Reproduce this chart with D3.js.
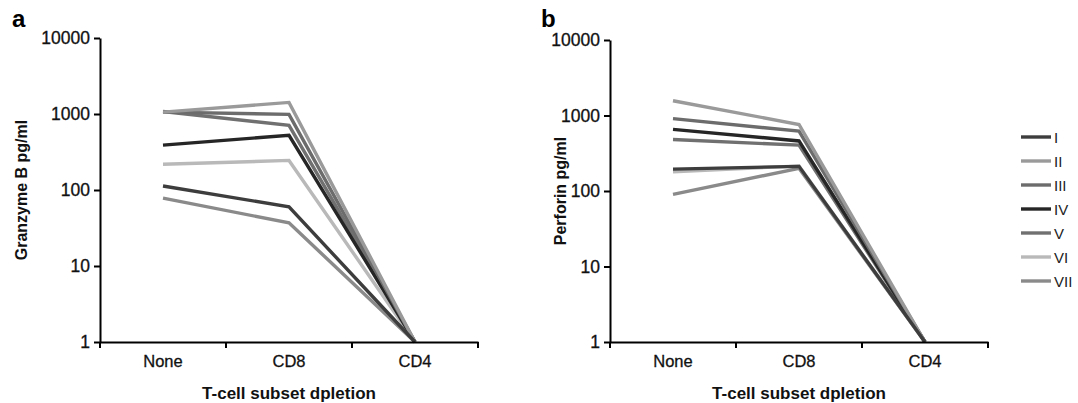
<!DOCTYPE html>
<html>
<head>
<meta charset="utf-8">
<script src="https://cdn.jsdelivr.net/npm/d3@7"></script>
<style>
  body { margin: 0; background: #fff; }
  svg { font-family: Arial, "Liberation Sans", sans-serif; }
  .axis path, .axis line { stroke: #000; stroke-width: 2; }
  .axis text { font-size: 17.5px; fill: #111; stroke: #111; stroke-width: 0.3; }
  .axis.x text { font-size: 16.5px; }
</style>
</head>
<body>
<svg id="chart" width="1078" height="403"></svg>
<script>
const categories = ["None", "CD8", "CD4"];
const seriesNames = ["I", "II", "III", "IV", "V", "VI", "VII"];
const seriesColors = ["#3d3d3d", "#9a9a9a", "#6c6c6c", "#262626", "#707070", "#b9b9b9", "#8a8a8a"];
const yTicks = [1, 10, 100, 1000, 10000];

// Granzyme B pg/ml, one array per series: None, CD8, CD4
const granzymeI = [113, 60, 1];
const granzymeII = [1060, 1420, 1];
const granzymeIII = [1060, 990, 1];
const granzymeIV = [390, 525, 1];
const granzymeV = [1080, 710, 1];
const granzymeVI = [218, 245, 1];
const granzymeVII = [78, 37, 1];

// Perforin pg/ml
const perforinI = [195, 212, 1];
const perforinII = [1570, 760, 1];
const perforinIII = [910, 620, 1];
const perforinIV = [655, 460, 1];
const perforinV = [480, 405, 1];
const perforinVI = [180, 215, 1];
const perforinVII = [90, 200, 1];

const granzyme = [granzymeI, granzymeII, granzymeIII, granzymeIV, granzymeV, granzymeVI, granzymeVII];
const perforin = [perforinI, perforinII, perforinIII, perforinIV, perforinV, perforinVI, perforinVII];

const svg = d3.select("#chart");

function drawPanel(opts) {
    const x = d3.scaleBand().domain(categories).range([opts.left, opts.right]).padding(0);
    const y = d3.scaleLog().domain([1, 10000]).range([opts.bottom, opts.top]);
    const g = svg.append("g");

    // lines first, axes on top
    const line = d3.line()
        .x((d, i) => x(categories[i]) + x.bandwidth() / 2)
        .y(d => y(d));

    const order = [6, 5, 4, 3, 2, 1, 0];
    g.selectAll(".series").data(order).enter().append("path")
        .attr("class", "series")
        .attr("d", k => line(opts.data[k]))
        .attr("fill", "none")
        .attr("stroke", k => seriesColors[k])
        .attr("stroke-width", 3.4)
        .attr("stroke-linejoin", "miter");

    g.append("g").attr("class", "axis y")
        .attr("transform", `translate(${opts.left},0)`)
        .call(d3.axisLeft(y).tickValues(yTicks).tickFormat(d3.format("d")).tickSize(6).tickSizeOuter(0).tickPadding(4));

    const xAxis = g.append("g").attr("class", "axis x")
        .attr("transform", `translate(0,${opts.bottom})`)
        .call(d3.axisBottom(x).tickSize(0).tickSizeOuter(0).tickPadding(13));

    // boundary ticks between categories
    const edges = categories.map(c => x(c)).concat([opts.right]);
    xAxis.selectAll(".edge").data(edges).enter().append("line")
        .attr("class", "edge")
        .attr("x1", d => d).attr("x2", d => d)
        .attr("y1", 0).attr("y2", 6);

    g.append("text")
        .attr("transform", `translate(${opts.ylabelX},${(opts.top + opts.bottom) / 2}) rotate(-90)`)
        .attr("text-anchor", "middle")
        .attr("font-size", 16)
        .attr("font-weight", "bold")
        .attr("fill", "#111")
        .text(opts.ylabel);

    g.append("text")
        .attr("x", (opts.left + opts.right) / 2)
        .attr("y", opts.bottom + 57)
        .attr("text-anchor", "middle")
        .attr("font-size", 17)
        .attr("font-weight", "bold")
        .attr("fill", "#111")
        .text("T-cell subset dpletion");

    g.append("text")
        .attr("x", opts.letterX)
        .attr("y", 27)
        .attr("font-size", 24)
        .attr("font-weight", "bold")
        .attr("fill", "#000")
        .text(opts.letter);
}

drawPanel({ left: 100, right: 478, top: 38, bottom: 342, data: granzyme,
    ylabel: "Granzyme B pg/ml", ylabelX: 27, letter: "a", letterX: 12 });
drawPanel({ left: 610, right: 988, top: 40, bottom: 342, data: perforin,
    ylabel: "Perforin pg/ml", ylabelX: 566, letter: "b", letterX: 541 });

// legend
const legend = svg.append("g").attr("transform", "translate(1021,0)");
const ly = d3.scalePoint().domain(seriesNames).range([137, 281]);
const items = legend.selectAll(".item").data(seriesNames).enter().append("g")
    .attr("class", "item")
    .attr("transform", d => `translate(0,${ly(d)})`);
items.append("line")
    .attr("x1", 0).attr("x2", 30)
    .attr("stroke", (d, i) => seriesColors[i])
    .attr("stroke-width", 3.4);
items.append("text")
    .attr("x", 33).attr("y", 5.5)
    .attr("font-size", 15)
    .attr("fill", "#222")
    .text(d => d);
</script>
</body>
</html>
